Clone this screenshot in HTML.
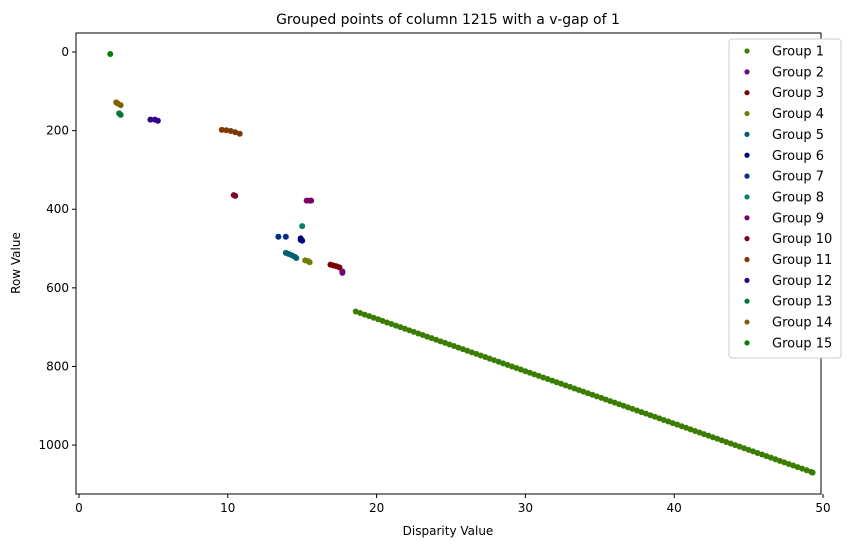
<!DOCTYPE html>
<html><head><meta charset="utf-8"><style>
body{margin:0;background:#fff;font-family:"Liberation Sans","DejaVu Sans",sans-serif}
svg text{font-family:"DejaVu Sans","Liberation Sans",sans-serif}
</style></head><body>
<svg id="c" width="859" height="547"></svg>
<script>
const groupNames=["Group 1","Group 2","Group 3","Group 4","Group 5","Group 6","Group 7","Group 8","Group 9","Group 10","Group 11","Group 12","Group 13","Group 14","Group 15"];
const groupColors=["#3a7d00","#6a0a80","#7a0000","#6f7d00","#006070","#00007a","#003080","#00806a","#80006a","#800030","#803800","#30008a","#00783a","#806000","#00800a"];
const g1x=[18.6,18.9,19.2,19.5,19.8,20.1,20.4,20.7,21.0,21.3,21.6,21.9,22.2,22.5,22.8,23.1,23.4,23.7,24.0,24.3,24.6,24.9,25.2,25.5,25.8,26.1,26.4,26.7,27.0,27.3,27.6,27.9,28.2,28.5,28.8,29.1,29.4,29.7,30.0,30.3,30.6,30.9,31.2,31.5,31.8,32.1,32.4,32.7,33.0,33.3,33.6,33.9,34.2,34.5,34.8,35.1,35.4,35.7,36.0,36.3,36.6,36.9,37.2,37.5,37.8,38.1,38.4,38.7,39.0,39.3,39.6,39.9,40.2,40.5,40.8,41.1,41.4,41.7,42.0,42.3,42.6,42.9,43.2,43.5,43.8,44.1,44.4,44.7,45.0,45.3,45.6,45.9,46.2,46.5,46.8,47.1,47.4,47.7,48.0,48.3,48.6,48.9,49.2,49.3];
const g1y=[660,664,668,672,676,680,684,688,692,696,700,704,708,712,716,720,724,728,732,736,740,744,748,752,756,760,764,768,772,776,780,784,788,792,796,800,804,808,812,816,820,824,828,832,836,840,844,848,852,856,860,864,868,872,876,880,884,888,892,896,900,904,908,912,916,920,924,928,932,936,940,944,948,952,956,960,964,968,972,976,980,984,988,992,996,1000,1004,1008,1012,1016,1020,1024,1028,1032,1036,1040,1044,1048,1052,1056,1060,1064,1068,1070];
const groupX=[g1x,[17.7,17.7],[16.9,17.1,17.3,17.5],[15.2,15.4,15.5],[13.9,14.1,14.3,14.5,14.6],[14.9,14.9,15.0],[13.4,13.9],[15.0],[15.3,15.5,15.6],[10.4,10.5],[9.6,9.9,10.2,10.5,10.8],[4.8,5.1,5.3],[2.7,2.8],[2.5,2.6,2.8],[2.1]];
const groupY=[g1y,[558,562],[541,543,545,548],[530,532,535],[511,514,517,521,524],[474,478,480],[470,470],[443],[378,378,378],[364,366],[198,199,201,204,208],[172,172,175],[156,160],[128,131,135],[5]];
const xTicks=[0,10,20,30,40,50];
const yTicks=[0,200,400,600,800,1000];
const NS="http://www.w3.org/2000/svg",svg=document.getElementById('c');
const L=76,R=821,T=33,B=494;
const xs=v=>79+v*14.88, ys=v=>52+v*0.3931;
function mk(t,a,p){const e=document.createElementNS(NS,t);for(const k in a)e.setAttribute(k,a[k]);(p||svg).appendChild(e);return e;}
let e=mk('rect',{x:L,y:T,width:R-L,height:B-T,fill:'none',stroke:'#000','stroke-width':1});


groupX.forEach((xa,g)=>{const gr=mk('g',{});


xa.forEach((x,i)=>{const c=mk('circle',{cx:xs(x),cy:ys(groupY[g][i]),r:3,fill:groupColors[g]},gr);

});});
xTicks.forEach(v=>{mk('line',{x1:xs(v),x2:xs(v),y1:B,y2:B+4,stroke:'#000'});
const t=mk('text',{x:xs(v),y:B+18,'text-anchor':'middle','font-size':12});t.textContent=v;

});
yTicks.forEach(v=>{mk('line',{x1:L-4,x2:L,y1:ys(v),y2:ys(v),stroke:'#000'});
const t=mk('text',{x:L-7,y:ys(v)+4,'text-anchor':'end','font-size':12});t.textContent=v;

});
let t=mk('text',{x:448,y:24,'text-anchor':'middle','font-size':14});t.textContent='Grouped points of column 1215 with a v-gap of 1';


t=mk('text',{x:448,y:535,'text-anchor':'middle','font-size':12});t.textContent='Disparity Value';


t=mk('text',{x:20,y:263,'text-anchor':'middle','font-size':12,transform:'rotate(-90 20 263)'});t.textContent='Row Value';


const lg=mk('g',{});


mk('rect',{x:729,y:39,width:112,height:319,rx:3,fill:'#fff',stroke:'#ccc'},lg);
groupNames.forEach((n,i)=>{const y=51+i*20.85;
const en=mk('g',{},lg);


mk('circle',{cx:747,cy:y,r:2.6,fill:groupColors[i]},en);
const tx=mk('text',{x:772,y:y+4.5,'font-size':13},en);tx.textContent=n;});
</script>
</body></html>
